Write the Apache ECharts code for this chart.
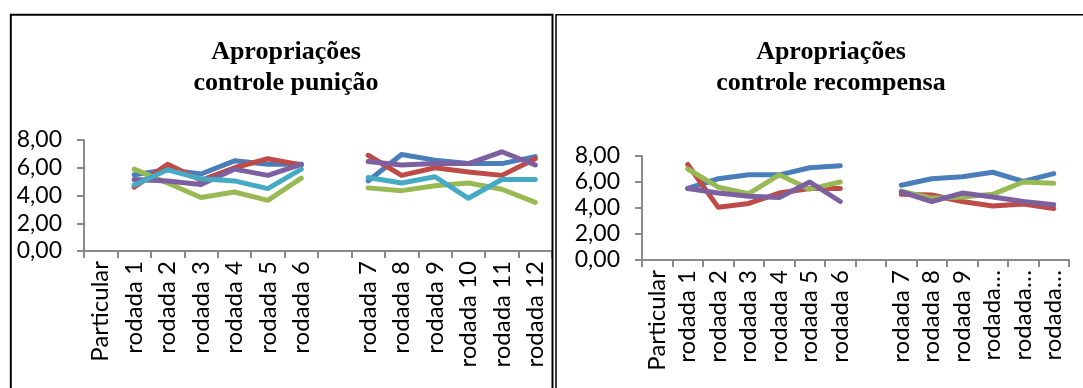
<!DOCTYPE html>
<html>
<head>
<meta charset="utf-8">
<script src="https://cdn.jsdelivr.net/npm/echarts@6/dist/echarts.min.js"></script>
<style>
  html, body { margin: 0; padding: 0; background: #fff; }
  #chart { width: 1083px; height: 388px; }
</style>
</head>
<body>
<div id="chart"></div>
<script>
// Categories shared by both panels (an empty slot separates the two halves)
const categories = ['Particular', 'rodada 1', 'rodada 2', 'rodada 3', 'rodada 4', 'rodada 5', 'rodada 6', '',
  'rodada 7', 'rodada 8', 'rodada 9', 'rodada 10', 'rodada 11', 'rodada 12'];
// Right panel shows the long labels truncated
const rightTickLabels = ['Particular', 'rodada 1', 'rodada 2', 'rodada 3', 'rodada 4', 'rodada 5', 'rodada 6', '',
  'rodada 7', 'rodada 8', 'rodada 9', 'rodada…', 'rodada…', 'rodada…'];
const yTicks = [0, 2, 4, 6, 8];

// Apropriações – controle punição
const punBlue   = [null, 5.5, 5.85, 5.55, 6.5, 6.25, 6.25, null, 5.05, 6.95, 6.55, 6.3, 6.3, 6.8];
const punRed    = [null, 4.6, 6.25, 5.1, 6.0, 6.65, 6.2, null, 6.9, 5.45, 6.0, 5.7, 5.45, 6.65];
const punGreen  = [null, 5.9, 4.9, 3.85, 4.25, 3.65, 5.25, null, 4.55, 4.35, 4.7, 4.9, 4.45, 3.5];
const punPurple = [null, 5.15, 5.05, 4.8, 5.9, 5.45, 6.25, null, 6.45, 6.2, 6.3, 6.3, 7.15, 6.2];
const punCyan   = [null, 4.75, 5.85, 5.2, 5.05, 4.5, 5.9, null, 5.3, 4.9, 5.35, 3.8, 5.15, 5.15];

// Apropriações – controle recompensa
const recBlue   = [null, 5.5, 6.25, 6.55, 6.55, 7.1, 7.25, null, 5.75, 6.25, 6.4, 6.75, 6.05, 6.65];
const recRed    = [null, 7.35, 4.05, 4.35, 5.15, 5.5, 5.5, null, 5.05, 5.0, 4.5, 4.15, 4.3, 3.95];
const recGreen  = [null, 7.0, 5.6, 5.1, 6.55, 5.45, 6.0, null, 5.3, 4.75, 4.85, 5.05, 6.0, 5.9];
const recPurple = [null, 5.5, 5.15, 4.9, 4.8, 6.0, 4.5, null, 5.25, 4.5, 5.15, 4.85, 4.5, 4.25];

const colors = { blue: '#4A7EBB', red: '#BE4B48', green: '#98B954', purple: '#7D60A0', cyan: '#46AAC5' };
const labelFont = 'Lato, "Open Sans", sans-serif';
const titleFont = '"Liberation Serif", "Times New Roman", serif';
const axisGray = '#8a8a8a';

function yAxis(gridIndex) {
  return {
    type: 'value', gridIndex, min: yTicks[0], max: yTicks[yTicks.length - 1], interval: 2,
    axisLine: { show: true, lineStyle: { color: axisGray, width: 2 } },
    axisTick: { show: true, inside: false, length: 7, lineStyle: { color: axisGray, width: 2 } },
    splitLine: { show: false },
    axisLabel: {
      margin: 22, color: '#000', fontFamily: labelFont, fontSize: 23,
      formatter: v => v.toFixed(2).replace('.', ',')
    }
  };
}

function xAxis(gridIndex, labels) {
  return {
    type: 'category', gridIndex, data: categories, boundaryGap: true,
    axisLine: { show: true, onZero: false, lineStyle: { color: axisGray, width: 2 } },
    axisTick: { show: true, interval: 0, length: 7, lineStyle: { color: axisGray, width: 2 } },
    axisLabel: {
      interval: 0, rotate: 90, margin: 10, color: '#000', fontFamily: labelFont, fontSize: 24,
      formatter: (v, i) => labels[i]
    }
  };
}

function line(name, data, color, idx) {
  return {
    name, type: 'line', data, xAxisIndex: idx, yAxisIndex: idx,
    showSymbol: false, symbol: 'none', connectNulls: false, animation: false,
    lineStyle: { color, width: 5, cap: 'round', join: 'round' }
  };
}

const chart = echarts.init(document.getElementById('chart'));
chart.setOption({
  animation: false,
  title: [
    { text: 'Apropriações\ncontrole punição', left: 281, top: 32, textAlign: 'center',
      textStyle: { fontFamily: titleFont, fontWeight: 'bold', fontSize: 26, lineHeight: 31, color: '#000' } },
    { text: 'Apropriações\ncontrole recompensa', left: 826, top: 32, textAlign: 'center',
      textStyle: { fontFamily: titleFont, fontWeight: 'bold', fontSize: 26, lineHeight: 31, color: '#000' } }
  ],
  grid: [
    { left: 84, top: 140, width: 468, height: 111 },
    { left: 642, top: 156, width: 427, height: 104 }
  ],
  xAxis: [xAxis(0, categories), xAxis(1, rightTickLabels)],
  yAxis: [yAxis(0), yAxis(1)],
  series: [
    line('Série 1', punBlue, colors.blue, 0),
    line('Série 2', punRed, colors.red, 0),
    line('Série 3', punGreen, colors.green, 0),
    line('Série 4', punPurple, colors.purple, 0),
    line('Série 5', punCyan, colors.cyan, 0),
    line('Série 1', recBlue, colors.blue, 1),
    line('Série 2', recRed, colors.red, 1),
    line('Série 3', recGreen, colors.green, 1),
    line('Série 4', recPurple, colors.purple, 1)
  ],
  graphic: [
    { type: 'rect', shape: { x: 10.8, y: 14.8, width: 541.7, height: 400 },
      style: { fill: 'none', stroke: '#000', lineWidth: 2 }, z: 100 },
    { type: 'rect', shape: { x: 556, y: 14.8, width: 560, height: 400 },
      style: { fill: 'none', stroke: '#000', lineWidth: 1.5 }, z: 100 }
  ]
});
</script>
</body>
</html>
